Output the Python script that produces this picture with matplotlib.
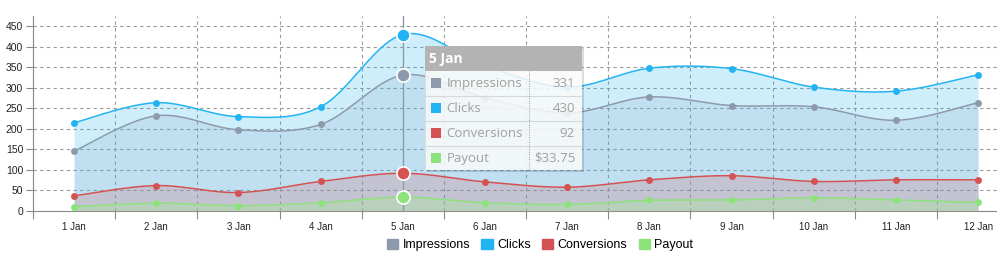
import numpy as np
import matplotlib
matplotlib.use("Agg")
import matplotlib.pyplot as plt
from matplotlib.patches import Rectangle

# -----------------------
# Data
# -----------------------
days = ["1 Jan", "2 Jan", "3 Jan", "4 Jan", "5 Jan", "6 Jan",
        "7 Jan", "8 Jan", "9 Jan", "10 Jan", "11 Jan", "12 Jan"]
impressions = [146, 232, 198, 211, 331, 276, 239, 278, 257, 254, 221, 264]
clicks = [215, 264, 230, 254, 430, 354, 302, 348, 347, 302, 292, 332]
conversions = [37, 62, 45, 72, 92, 71, 58, 76, 86, 72, 76, 76]
payout = [10.5, 19, 13, 20, 33.75, 20, 16, 26, 27, 32, 27, 21]

series_names = ["Impressions", "Clicks", "Conversions", "Payout"]
series_colors = ["#8e9aab", "#22b4f2", "#d55252", "#8ee27c"]
hover_idx = 4

AXIS_FONT = "Liberation Sans"
TIP_FONT = "Open Sans"


def smooth(xs, ys, n=24, tension=0.5):
    """Cardinal spline through the points, for drawing only."""
    xs = np.asarray(xs, float)
    ys = np.asarray(ys, float)
    px = np.concatenate([[xs[0]], xs, [xs[-1]]])
    py = np.concatenate([[ys[0]], ys, [ys[-1]]])
    out_x, out_y = [], []
    t = np.linspace(0, 1, n)
    for i in range(1, len(px) - 2):
        p0x, p1x, p2x, p3x = px[i - 1], px[i], px[i + 1], px[i + 2]
        p0y, p1y, p2y, p3y = py[i - 1], py[i], py[i + 1], py[i + 2]
        m1x, m2x = tension * (p2x - p0x), tension * (p3x - p1x)
        m1y, m2y = tension * (p2y - p0y), tension * (p3y - p1y)
        h00 = 2 * t**3 - 3 * t**2 + 1
        h10 = t**3 - 2 * t**2 + t
        h01 = -2 * t**3 + 3 * t**2
        h11 = t**3 - t**2
        out_x.append(h00 * p1x + h10 * m1x + h01 * p2x + h11 * m2x)
        out_y.append(h00 * p1y + h10 * m1y + h01 * p2y + h11 * m2y)
    return np.concatenate(out_x), np.concatenate(out_y)


W, H = 997, 256
fig = plt.figure(figsize=(W / 100, H / 100), dpi=100)
ax_left, ax_bottom, ax_top = 33, 211, 15.7
ax = fig.add_axes([ax_left / W, (H - ax_bottom) / H, (W - ax_left) / W, (ax_bottom - ax_top) / H])

x = np.arange(len(days))
ax.set_xlim(-0.5, 11.23)
ax.set_ylim(0, 476)

# grid
for yv in range(50, 451, 50):
    ax.axhline(yv, color="#9a9a9a", lw=0.8, ls=(0, (3, 3)), zorder=0)
for xv in np.arange(0.5, 11.5, 1.0):
    ax.axvline(xv, color="#9a9a9a", lw=0.8, ls=(0, (3, 3)), zorder=0)

# areas + lines (draw order: clicks, impressions, conversions, payout)
data = {"Impressions": impressions, "Clicks": clicks, "Conversions": conversions, "Payout": payout}
colors = dict(zip(series_names, series_colors))
fill_colors = {"Clicks": "#22b4f2", "Impressions": "#88a8ca", "Conversions": "#d55252", "Payout": "#9ef584"}
alphas = {"Clicks": 0.22, "Impressions": 0.2, "Conversions": 0.2, "Payout": 0.27}
z = 2
for name in ["Clicks", "Impressions", "Conversions", "Payout"]:
    vals = data[name]
    sx, sy = smooth(x, vals)
    ax.fill_between(sx, 0, sy, color=fill_colors[name], alpha=alphas[name], lw=0, zorder=z)
    ax.plot(sx, sy, color=colors[name], lw=1.1, zorder=z + 1)
    ax.plot(x, vals, "o", color=colors[name], ms=5, mec="none", zorder=z + 2)
    z += 3

# crosshair + hover markers
ax.axvline(hover_idx, color="#8b9bab", lw=1.0, zorder=20)
for name in series_names:
    ax.plot(hover_idx, data[name][hover_idx], "o", color=colors[name], ms=9.5,
            mec="white", mew=1.2, zorder=21)

# axes styling
for side in ["top", "right"]:
    ax.spines[side].set_visible(False)
ax.spines["left"].set_color("#888888")
ax.spines["bottom"].set_color("#888888")
ax.set_yticks(range(0, 451, 50))
ax.set_yticklabels([str(v) for v in range(0, 451, 50)], fontsize=7.5, family=AXIS_FONT, color="#222222")
ax.tick_params(axis="y", length=5, color="#888888", pad=2)
ax.set_xticks(np.arange(-0.5, 11.5, 1.0))
ax.set_xticklabels([])
ax.tick_params(axis="x", length=6, color="#888888")
ax.set_xticks(x, minor=True)
ax.set_xticklabels(days, minor=True, fontsize=7, family=AXIS_FONT, color="#222222")
ax.tick_params(axis="x", which="minor", length=0, pad=8)

# legend
handles = [Rectangle((0, 0), 1, 1, color=c) for c in series_colors]
fig.legend(handles, series_names, loc="center", bbox_to_anchor=(540 / W, 1 - 245 / H),
           ncol=4, frameon=False, prop={"family": AXIS_FONT, "size": 9},
           handlelength=0.9, handleheight=0.9, handletextpad=0.35, columnspacing=0.9)

# tooltip
tx, ty, tw, th = 425, 45.7, 157, 124.5
shadow = fig.add_axes([(tx + 2) / W, (H - ty - th - 2) / H, tw / W, th / H])
shadow.set_axis_off()
shadow.add_patch(Rectangle((0, 0), 1, 1, color="#000000", alpha=0.12, transform=shadow.transAxes))
tip = fig.add_axes([tx / W, (H - ty - th) / H, tw / W, th / H])
tip.set_xlim(0, tw)
tip.set_ylim(th, 0)
tip.set_axis_off()
tip.add_patch(Rectangle((0, 0), tw, th, facecolor="white", alpha=0.85, edgecolor="#d8d8d8", lw=0.8))
tip.add_patch(Rectangle((0, 0), tw, 25, facecolor="#b3b3b3", edgecolor="none"))
tip.text(4, 12.8, days[hover_idx], fontsize=10, fontweight="bold", color="white",
         family=TIP_FONT, va="center", ha="left")
tip_values = [str(impressions[hover_idx]), str(clicks[hover_idx]),
              str(conversions[hover_idx]), "$%.2f" % payout[hover_idx]]
row_h = 25
for i, (name, val) in enumerate(zip(series_names, tip_values)):
    top = 25 + i * row_h
    if i > 0:
        tip.plot([0, tw], [top, top], color="#d4d8dc", lw=0.8)
    tip.add_patch(Rectangle((6, top + 7.5), 10, 10, facecolor=series_colors[i], edgecolor="none"))
    tip.text(21.5, top + 12.5, name, fontsize=9.5, color="#a0a0a0", family=TIP_FONT,
             va="center", ha="left")
    tip.text(150, top + 12.5, val, fontsize=9.5, color="#a0a0a0", family=TIP_FONT,
             va="center", ha="right")
tip.plot([103.7, 103.7], [25, th], color="#999999", lw=0.7, ls=(0, (1, 1.5)))

fig.savefig("out.png", dpi=100)
